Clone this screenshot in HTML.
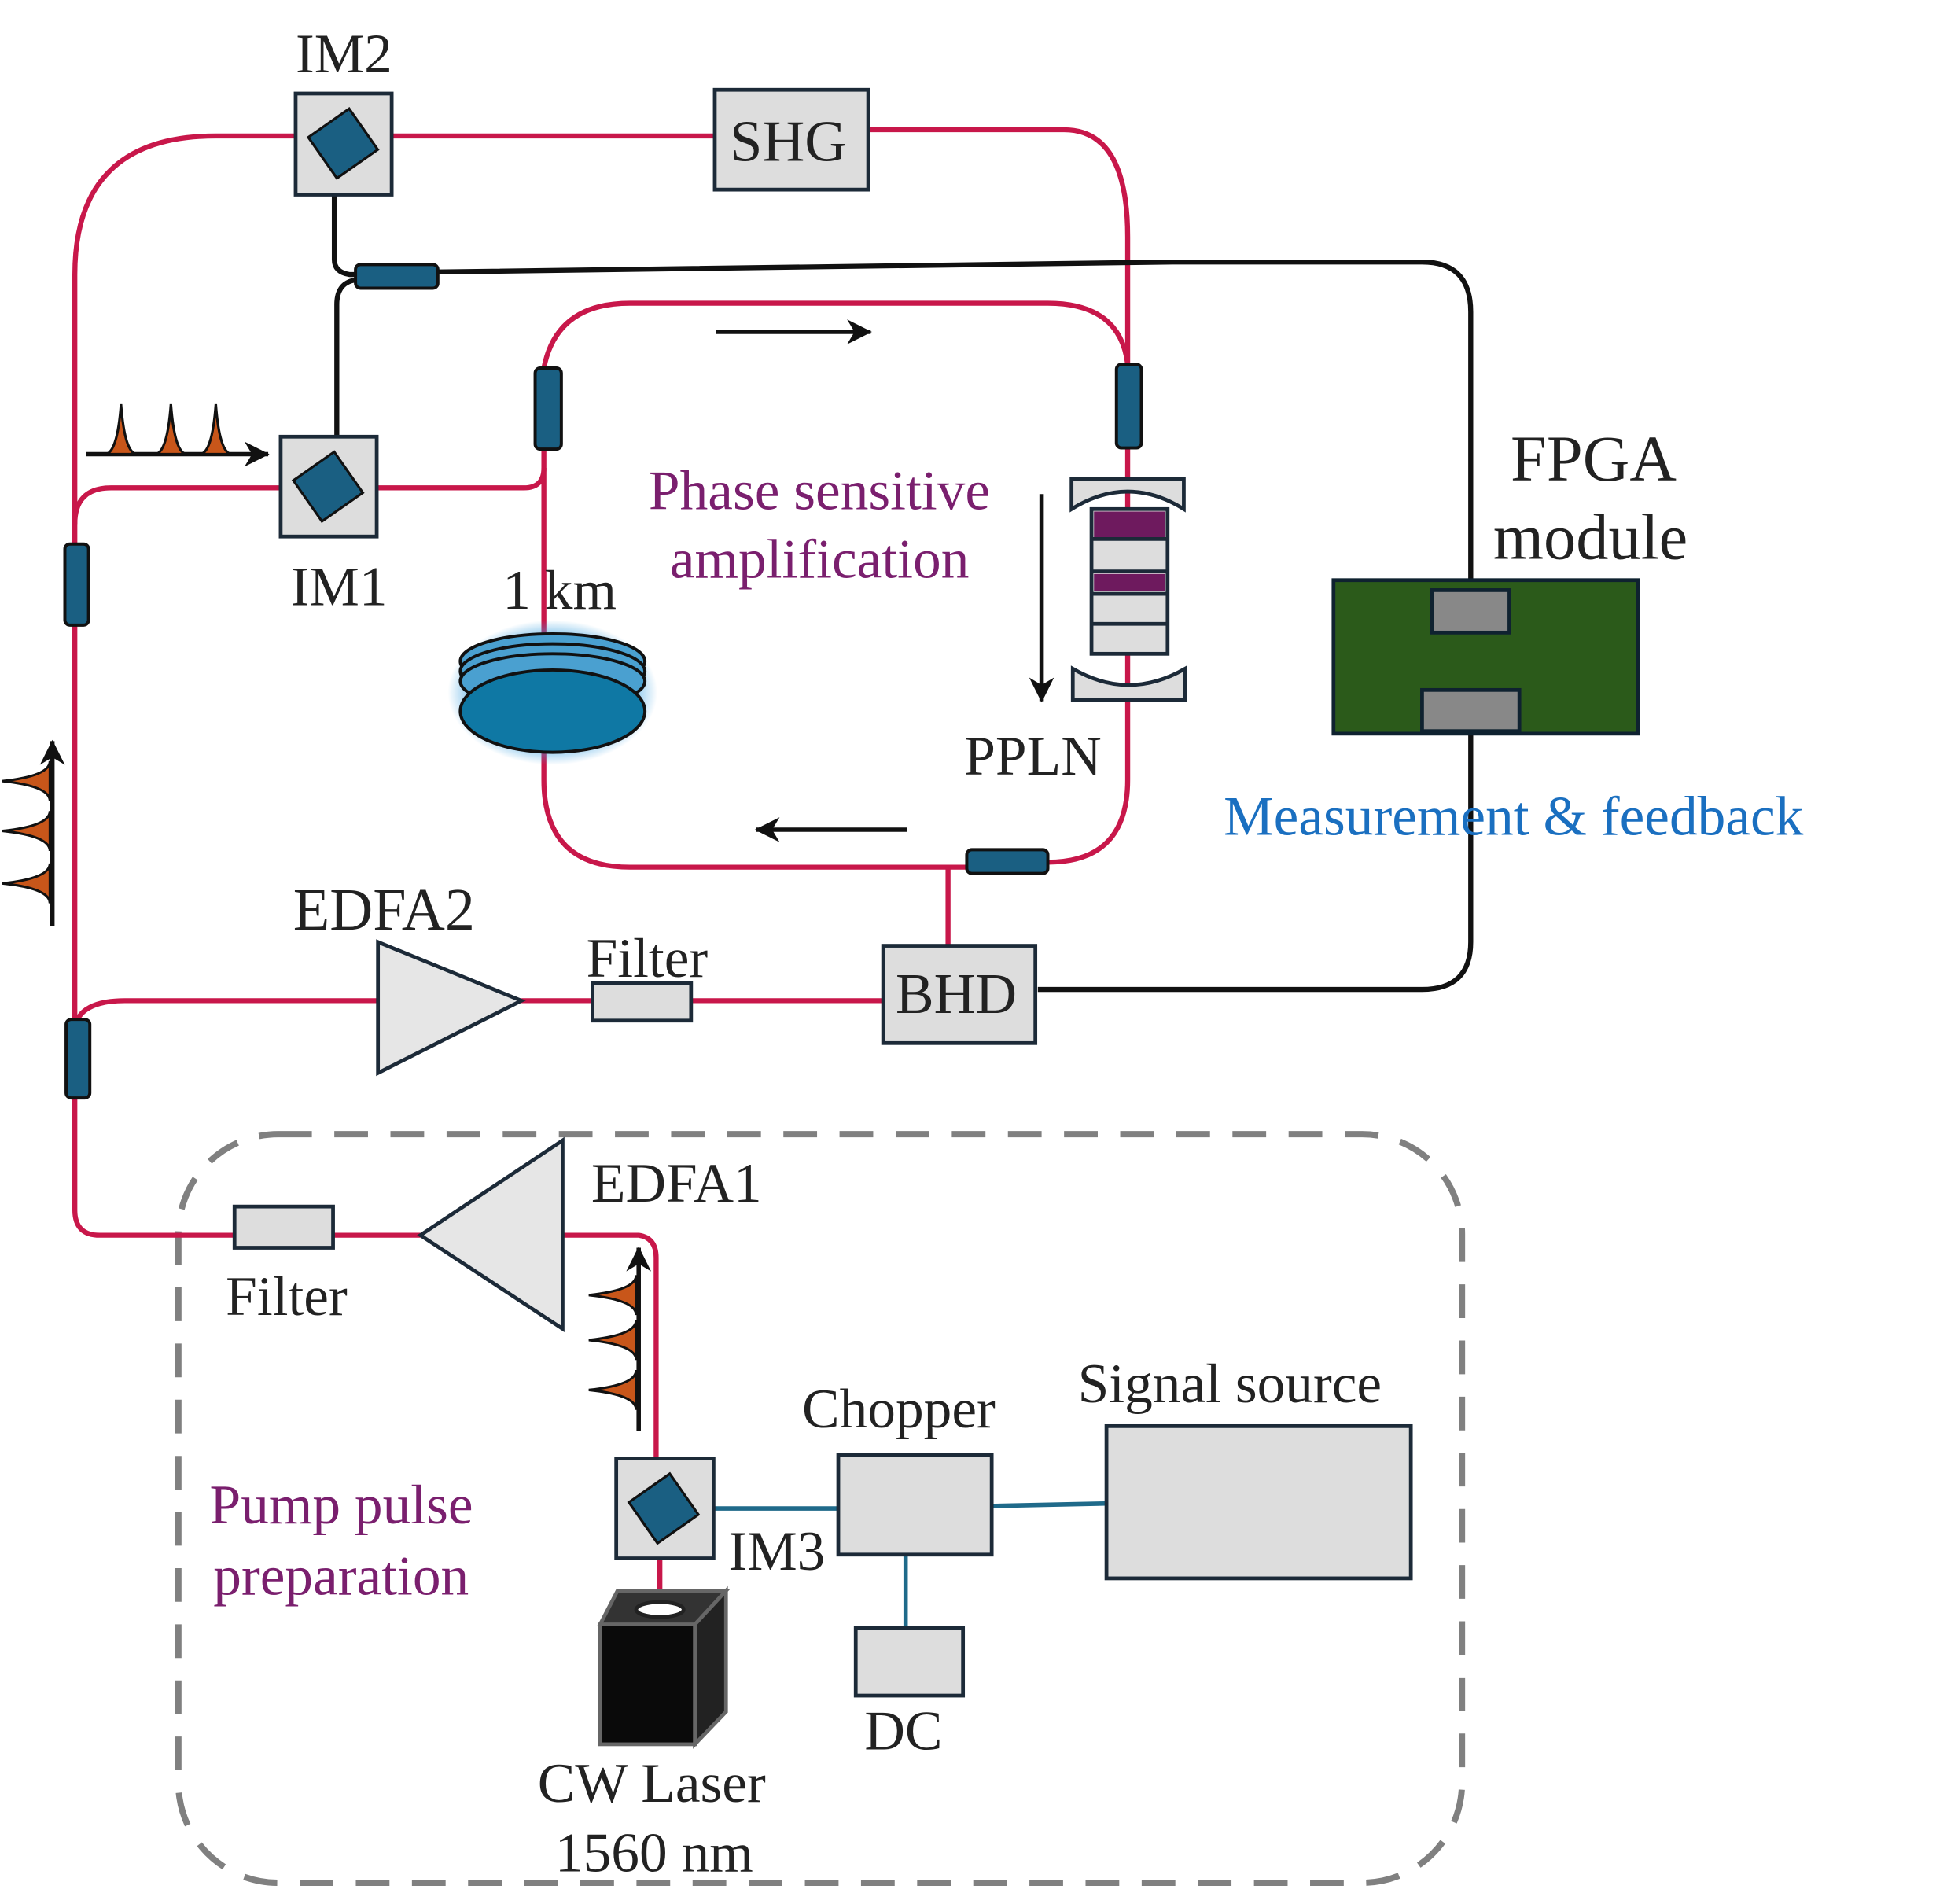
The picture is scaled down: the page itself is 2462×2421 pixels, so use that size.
<!DOCTYPE html>
<html><head><meta charset="utf-8"><style>
html,body{margin:0;padding:0;background:#fff}
svg{display:block}
text{font-family:"Liberation Serif",serif;fill:#222}
</style></head><body>
<svg width="2462" height="2421" viewBox="0 0 1552 1526" preserveAspectRatio="none" xmlns="http://www.w3.org/2000/svg">
<defs>
<marker id="ah" markerWidth="22" markerHeight="22" refX="19" refY="11" orient="auto" markerUnits="userSpaceOnUse">
<path d="M0,1 L20,11 L0,21 L6,11 Z" fill="#111"/></marker>
<radialGradient id="glow" cx="50%" cy="50%" r="50%"><stop offset="70%" stop-color="#3aa0e0" stop-opacity="0.8"/><stop offset="100%" stop-color="#3aa0e0" stop-opacity="0"/></radialGradient>
</defs>
<rect x="143" y="909" width="1029" height="600" rx="80" fill="none" stroke="#808080" stroke-width="5" stroke-dasharray="27,18"/>

<g fill="none" stroke="#c8174a" stroke-width="4">
<path d="M237,109 H173 Q60,109 60,220 V970 Q60,990 80,990 H337"/>
<path d="M314,109 H573"/>
<path d="M696,104 H853 Q904,104 904,190 V625 Q904,691 840,691"/>
<path d="M436,295 Q446,243 505,243 H840 Q898,243 904,292"/>
<path d="M436,360 V625 Q436,695 505,695 H790"/>
<path d="M302,391 H420 Q436,391 436,375"/>
<path d="M60,420 Q60,391 89,391 H225"/>
<path d="M62,817 Q70,802 100,802 H303"/>
<path d="M418,802 H708"/>
<path d="M760,770 V695"/>
<path d="M451,990 H512 Q526,992 526,1008 V1169"/>
<path d="M529,1249 V1277"/>
</g>

<g fill="none" stroke="#111" stroke-width="4">
<path d="M268,156 V208 Q268,218 280,220 H290"/>
<path d="M351,218 L940,210 H1140 Q1179,210 1179,250 V755 Q1179,793 1140,793 H832"/>
<path d="M290,224 Q270,224 270,244 V350"/>
</g>

<g fill="none" stroke="#1f6a8a" stroke-width="3.5">
<path d="M572,1209 H672"/><path d="M795,1207 L887,1205"/><path d="M726,1246 V1305"/>
</g>

<g fill="#1a5f82" stroke="#111" stroke-width="2.5">
<rect x="285" y="212" width="66" height="19" rx="4"/>
<rect x="429" y="295" width="21" height="65" rx="4"/>
<rect x="895" y="292" width="20" height="67" rx="4"/>
<rect x="52" y="436" width="19" height="65" rx="4"/>
<rect x="53" y="817" width="19" height="63" rx="4"/>
<rect x="775" y="681" width="65" height="19" rx="4"/>
</g>

<g stroke="#1c2a38" stroke-width="3">
<rect x="237" y="75" width="77" height="81" fill="#ddd"/>
<rect x="225" y="350" width="77" height="80" fill="#ddd"/>
<rect x="494" y="1169" width="78" height="80" fill="#ddd"/>
</g>
<g fill="#1a5f82" stroke="#111" stroke-width="2">
<rect x="255" y="95" width="40" height="40" transform="rotate(-35 275 115)"/>
<rect x="243" y="370" width="40" height="40" transform="rotate(-35 263 390)"/>
<rect x="512" y="1189" width="40" height="40" transform="rotate(-35 532 1209)"/>
</g>

<g stroke="#1c2a38" stroke-width="3" fill="#ddd">
<rect x="573" y="72" width="123" height="80"/>
<rect x="475" y="788" width="79" height="30"/>
<rect x="188" y="967" width="79" height="33"/>
<rect x="708" y="758" width="122" height="78"/>
<polygon points="303,755 303,860 418,802" fill="#e6e6e6"/>
<polygon points="337,990 451,914 451,1065" fill="#e6e6e6"/>
<rect x="672" y="1166" width="123" height="80"/>
<rect x="887" y="1143" width="244" height="122"/>
<rect x="686" y="1305" width="86" height="54"/>
</g>

<ellipse cx="443" cy="555" rx="84" ry="58" fill="url(#glow)"/>
<g stroke="#111" stroke-width="2.5">
<ellipse cx="443" cy="530" rx="74" ry="22" fill="#4aa0d0"/>
<ellipse cx="443" cy="538" rx="74" ry="22" fill="#4aa0d0"/>
<ellipse cx="443" cy="546" rx="74" ry="22" fill="#4aa0d0"/>
<ellipse cx="443" cy="570" rx="74" ry="33" fill="#0f78a4"/>
</g>

<g stroke="#1c2a38" stroke-width="3">
<path d="M859,384 H949 V408 Q904,380 859,408 Z" fill="#ddd"/>
<path d="M860,536 Q905,562 950,536 V561 H860 Z" fill="#ddd"/>
<rect x="875" y="408" width="61" height="116" fill="#ddd"/>
<rect x="877" y="410" width="57" height="21" fill="#6e1a5e" stroke="none"/>
<line x1="875" y1="432" x2="936" y2="432"/>
<rect x="877" y="460" width="57" height="14" fill="#6e1a5e" stroke="none"/>
<line x1="875" y1="458" x2="936" y2="458"/>
<line x1="875" y1="476" x2="936" y2="476"/>
<line x1="875" y1="500" x2="936" y2="500"/>
</g>

<rect x="1069" y="465" width="244" height="123" fill="#2b5a1a" stroke="#0f2230" stroke-width="3"/>
<rect x="1148" y="473" width="62" height="34" fill="#888" stroke="#0f2230" stroke-width="3"/>
<rect x="1140" y="553" width="78" height="33" fill="#888" stroke="#0f2230" stroke-width="3"/>

<polygon points="481,1302 495,1275 582,1275 557,1302" fill="#333" stroke="#666" stroke-width="3"/>
<polygon points="557,1302 582,1275 582,1372 557,1398" fill="#222" stroke="#666" stroke-width="3"/>
<rect x="481" y="1302" width="76" height="96" fill="#0a0a0a" stroke="#666" stroke-width="3"/>
<ellipse cx="529" cy="1290" rx="19" ry="6" fill="#fff" stroke="#222" stroke-width="3"/>

<g stroke="#111" stroke-width="3.5" marker-end="url(#ah)" fill="none">
<path d="M574,266 H698"/><path d="M727,665 H606"/><path d="M835,396 V562"/>
<path d="M69,364 H215"/><path d="M42,742 V594"/><path d="M512,1147 V1000"/>
</g>
<g fill="#c8561a" stroke="#111" stroke-width="2">
<path d="M84,364 Q94,364 97,324 Q100,364 110,364 Z"/>
<path d="M124,364 Q134,364 137,324 Q140,364 150,364 Z"/>
<path d="M160,364 Q170,364 173,324 Q176,364 186,364 Z"/>
<path d="M40,724 Q40,712 2,708 Q40,704 40,692 Z"/>
<path d="M40,682 Q40,670 2,666 Q40,662 40,650 Z"/>
<path d="M40,642 Q40,630 2,626 Q40,622 40,610 Z"/>
<path d="M510,1130 Q510,1118 472,1114 Q510,1110 510,1098 Z"/>
<path d="M510,1090 Q510,1078 472,1074 Q510,1070 510,1058 Z"/>
<path d="M510,1054 Q510,1042 472,1038 Q510,1034 510,1022 Z"/>
</g>

<g font-size="45">
<text x="237" y="58">IM2</text>
<text x="585" y="129" fill="#333" font-size="47">SHG</text>
<text x="233" y="485">IM1</text>
<text x="403" y="488">1 km</text>
<text x="1211" y="385" font-size="52">FPGA</text>
<text x="1197" y="448" font-size="52">module</text>
<text x="773" y="621">PPLN</text>
<text x="235" y="745" font-size="48">EDFA2</text>
<text x="470" y="783">Filter</text>
<text x="718" y="812" font-size="46">BHD</text>
<text x="474" y="963">EDFA1</text>
<text x="181" y="1054">Filter</text>
<text x="643" y="1144">Chopper</text>
<text x="864" y="1124">Signal source</text>
<text x="584" y="1258">IM3</text>
<text x="693" y="1402">DC</text>
<text x="431" y="1444">CW Laser</text>
<text x="445" y="1500">1560 nm</text>
</g>
<g font-size="45">
<text x="520" y="408" style="fill:#7a1f6e">Phase sensitive</text>
<text x="537" y="463" style="fill:#7a1f6e">amplification</text>
<text x="168" y="1221" style="fill:#7a1f6e">Pump pulse</text>
<text x="171" y="1278" style="fill:#7a1f6e">preparation</text>
</g>
<text x="981" y="669" font-size="45" style="fill:#1a6fc0">Measurement &amp; feedback</text>
</svg>
</body></html>
